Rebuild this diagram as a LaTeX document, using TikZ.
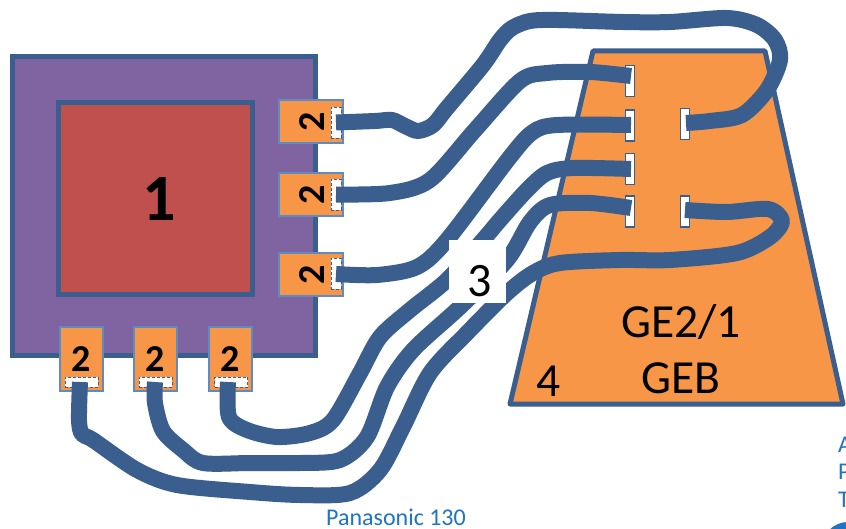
\documentclass[tikz,border=0pt]{standalone}
\usepackage{fontspec}
\setmainfont{Carlito}
\definecolor{cable}{HTML}{3A5F8F}
\definecolor{purp}{HTML}{8064A2}
\definecolor{brick}{HTML}{C0504D}
\definecolor{orng}{HTML}{F79646}
\definecolor{padline}{HTML}{5B8CC4}
\definecolor{bluet}{HTML}{1F74C4}
\tikzset{
  box/.style={draw=cable,line width=5pt,inner sep=0pt,outer sep=0pt,anchor=north west},
  padbox/.style={draw=padline,fill=orng,line width=1.8pt,inner sep=0pt,outer sep=0pt},
  tag/.style={font=\fontsize{38}{38}\selectfont\bfseries,inner sep=0pt,text=black},
  term/.style={draw=cable,fill=white,line width=1.4pt,minimum width=9pt,minimum height=31pt,inner sep=0pt,outer sep=0pt},
  dterm/.style={draw=cable,fill=white,densely dashed,line width=0.9pt,minimum width=10pt,minimum height=31pt,inner sep=0pt,outer sep=0pt},
  dtermh/.style={dterm,minimum width=33pt,minimum height=10pt},
  wire/.style={draw=cable,line width=16pt,line join=round},
  lab/.style={font=\fontsize{47.5}{47.5}\selectfont,inner sep=0pt,text=black},
}
\begin{document}
\begin{tikzpicture}[x=1pt,y=-1pt]
\useasboundingbox (0,0) rectangle (846,529);
\clip (0,0) rectangle (846,529);
\fill[white] (0,0) rectangle (846,529);
% chip
\node[box,fill=purp,minimum width=303pt,minimum height=298pt] (chip) at (12,57) {};
\node[box,fill=brick,minimum width=194pt,minimum height=192pt] (die) at (58,103) {};
\node[font=\fontsize{66}{66}\selectfont\bfseries,inner sep=0pt] (one) at (159,199) {1};
% trapezoid
\draw[draw=cable,fill=orng,line width=5pt,line join=round] (593,51) -- (765,51) -- (843,404) -- (510,404) -- cycle;
\node[lab] (ge) at (681,322) {GE2/1};
\node[lab] (geb) at (681,378) {GEB};
\node[lab] (four) at (549,381) {4};
% pads
\node[padbox,minimum width=64pt,minimum height=43pt] (p1) at (311,121.5) {};
\node[padbox,minimum width=64pt,minimum height=43pt] (p2) at (311,194.5) {};
\node[padbox,minimum width=64pt,minimum height=43pt] (p3) at (311,274.5) {};
\node[padbox,minimum width=43pt,minimum height=64pt] (p4) at (81.5,359) {};
\node[padbox,minimum width=43pt,minimum height=64pt] (p5) at (155.5,359) {};
\node[padbox,minimum width=43pt,minimum height=64pt] (p6) at (230.5,359) {};
\node[tag,rotate=90] (n1) at (312,122) {2};
\node[tag,rotate=90] (n2) at (312,194.5) {2};
\node[tag,rotate=90] (n3) at (312,274.5) {2};
\node[tag] (n4) at (81.5,359) {2};
\node[tag] (n5) at (155.5,359) {2};
\node[tag] (n6) at (230.5,359) {2};
% pad contacts
\node[dterm] (d1) at (336,122.5) {};
\node[dterm] (d2) at (336,194.5) {};
\node[dterm] (d3) at (336,274) {};
\node[dtermh] (d4) at (81.5,382) {};
\node[dtermh] (d5) at (155.5,382) {};
\node[dtermh] (d6) at (231,382) {};
% connector contacts
\node[term] (t1) at (630,81) {};
\node[term] (t2) at (630,125.5) {};
\node[term] (t3) at (630,169) {};
\node[term] (t4) at (630,211.5) {};
\node[term] (t5) at (685,124) {};
\node[term] (t6) at (685,211.5) {};
% cable ends on the contacts
\coordinate (e1) at (631,76);
\coordinate (e2) at (631,125);
\coordinate (e3) at (631,169);
\coordinate (e4) at (631,208);
\coordinate (e5) at (686,123);
\coordinate (e6) at (685,210);
\coordinate (s4) at (80,382);
\coordinate (s5) at (155,382);
\coordinate (s6) at (228,382);
% cables
\path[wire] plot[smooth,tension=0.5] coordinates {(d1.center) (375,121) (392,120) (405,126) (418,131) (433,125) (447,108) (483,65) (500,40) (512,28) (530,21) (557,20) (623,22) (670,22) (727,18) (757,25) (775,40) (780,60) (767,90) (742,115) (710,121) (e5)};
\path[wire] plot[smooth,tension=0.5] coordinates {(d2.center) (390,193) (430,180) (475,130) (520,81) (547,73) (590,72) (e1)};
\path[wire] plot[smooth,tension=0.5] coordinates {(d3.center) (377,275) (417,267) (447,240) (510,157) (533,132) (557,125) (e2)};
\path[wire] plot[smooth,tension=0.5] coordinates {(s6) (229,417) (247,430) (277,437) (310,433) (333,420) (360,373) (380,337) (410,310) (447,280) (483,240) (500,220) (527,190) (547,173) (573,168) (e3)};
\path[wire] plot[smooth,tension=0.5] coordinates {(s5) (155,403) (163,431) (183,450) (203,463) (250,463) (300,463) (340,460) (367,437) (387,387) (413,350) (460,307) (507,260) (530,222) (550,205) (590,203) (e4)};
\path[wire] plot[smooth,tension=0.5] coordinates {(s4) (79,420) (82,434) (93,440) (137,470) (177,485) (250,492) (300,495) (350,493) (380,470) (403,427) (430,373) (467,333) (507,293) (533,273) (560,263) (620,260) (670,260) (737,253) (770,237) (782,221) (768,209) (727,212) (e6)};
% cable label
\node[fill=white,minimum width=57pt,minimum height=63pt,inner sep=0pt] (three) at (477.5,271.5) {};
\node[font=\fontsize{48}{48}\selectfont,inner sep=0pt] (threet) at (480,281) {3};
% captions
\node[font=\fontsize{24}{24}\selectfont,text=bluet,inner sep=0pt] (cap) at (396,517) {Panasonic 130};
\node[font=\fontsize{24}{24}\selectfont,text=bluet,inner sep=0pt,anchor=west] (a) at (838,445) {A};
\node[font=\fontsize{24}{24}\selectfont,text=bluet,inner sep=0pt,anchor=west] (b) at (838,472) {P};
\node[font=\fontsize{24}{24}\selectfont,text=bluet,inner sep=0pt,anchor=west] (c) at (838,500) {T};
\fill[bluet] (848,548) circle (26);
\end{tikzpicture}
\end{document}
